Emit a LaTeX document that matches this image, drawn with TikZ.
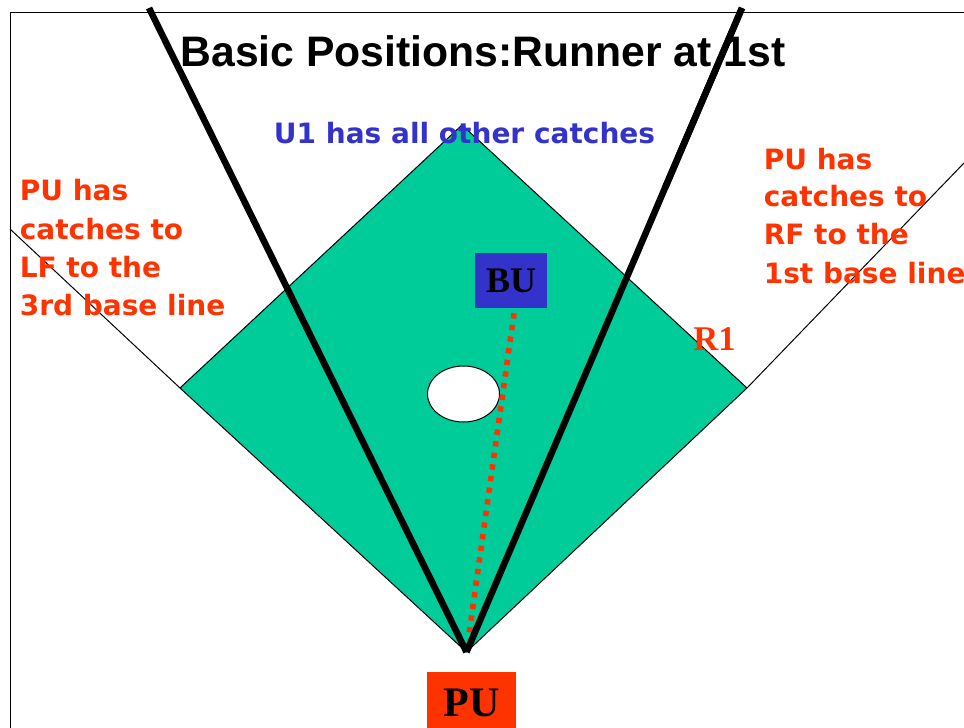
\documentclass[tikz,border=0pt]{standalone}
\usepackage{fontspec}
\setmainfont{Liberation Serif}
\newfontfamily\djs{DejaVu Sans}
\newfontfamily\libsans{Liberation Sans}
\usetikzlibrary{calc,shapes.geometric}
\definecolor{field}{HTML}{00CC99}
\definecolor{ublue}{HTML}{3333CC}
\definecolor{ured}{HTML}{FF3300}
\tikzset{
  redtxt/.style={text=ured, font=\djs\bfseries\fontsize{21}{25}\selectfont, anchor=base west, inner sep=0pt},
  bluetxt/.style={text=ublue, font=\djs\bfseries\fontsize{21}{25}\selectfont, anchor=base, inner sep=0pt},
  titletxt/.style={text=black, font=\libsans\bfseries\fontsize{32}{36}\selectfont, anchor=base, inner sep=0pt},
  umpbox/.style={inner sep=0pt, font=\bfseries\fontsize{27}{30}\selectfont, text=black},
  thinline/.style={draw=black, line width=0.75pt},
  thickline/.style={draw=black, line width=4.9pt},
  reddots/.style={draw=ured, line width=4.2pt, dash pattern=on 4pt off 4.8pt}
}
\begin{document}
\begin{tikzpicture}[x=0.75pt,y=-0.75pt]
\useasboundingbox (0,0) rectangle (964,728);
\clip (0,0) rectangle (964,728);
% frame
\coordinate (fbl) at (10,730);
\coordinate (ftl) at (10,12);
\coordinate (ftr) at (966,12);
\draw[thinline] (fbl) -- (ftl) -- (ftr);
% field
\coordinate (home) at (466.5,652);
\coordinate (third) at (180,388);
\coordinate (first) at (747,388);
\coordinate (second) at (462,125);
\coordinate (lf) at (10,229);
\coordinate (rf) at (964,163);
\draw[thinline] (third) -- (lf);
\draw[thinline] (first) -- (rf);
\fill[field] (home) -- (third) -- (second) -- (first) -- cycle;
\draw[thinline] (home) -- (third) -- (second) -- (first) -- cycle;
% mound
\node[draw=black, fill=white, line width=0.75pt, ellipse, minimum width=54pt, minimum height=42pt, inner sep=0pt] (mound) at (463.5,394) {};
% base umpire
\node[umpbox, fill=ublue, minimum width=54pt, minimum height=41.25pt] (bu) at (511,280.5) {BU};
% plate umpire
\node[umpbox, fill=ured, minimum width=66.75pt, minimum height=46.5pt, anchor=north, font=\bfseries\fontsize{31.5}{34}\selectfont] (pu) at (471.5,672) {PU\hspace{17pt}};
% red dotted line
\coordinate (dotstart) at ($(bu.south)+(3,5)$);
\draw[reddots, shorten >=11pt] (dotstart) -- (home);
% thick coverage lines
\coordinate (ltop) at (149,8);
\coordinate (rtop) at (742,8);
\draw[thickline] (ltop) -- (home);
\draw[thickline] (rtop) -- (home);
% texts
\node[titletxt] (title) at (483,66.7) {Basic Positions:Runner at 1st};
\draw[thickline] (rtop) -- ($(home)!0.72!(rtop)$);
\node[bluetxt] (u1) at (464.5,143) {U1 has all other catches};
\node[redtxt] (l1) at (19.5,200.7) {PU has};
\node[redtxt] (l2) at (19.5,239) {catches to};
\node[redtxt] (l3) at (19.5,277) {LF to the};
\node[redtxt] (l4) at (19.5,315) {3rd base line};
\node[redtxt] (r1) at (763.5,169) {PU has};
\node[redtxt] (r2) at (763.5,206.5) {catches to};
\node[redtxt] (r3) at (763.5,244.5) {RF to the};
\node[redtxt] (r4) at (763.5,283) {1st base line};
\node[anchor=base west, inner sep=0pt, text=ured, font=\bfseries\fontsize{26}{28}\selectfont] (runner) at (693,350) {R1};
\end{tikzpicture}
\end{document}
